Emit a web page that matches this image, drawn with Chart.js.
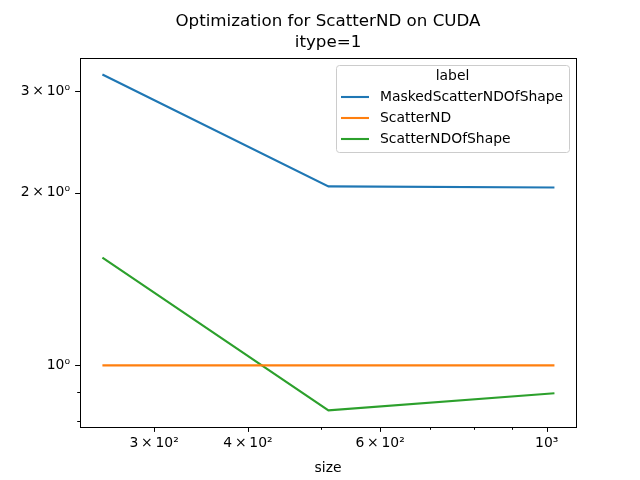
<!DOCTYPE html>
<html>
<head>
<meta charset="utf-8">
<script src="https://cdn.jsdelivr.net/npm/chart.js@4/dist/chart.umd.min.js"></script>
<style>
  html, body { margin: 0; padding: 0; background: #fff; }
  #wrap { width: 640px; height: 480px; }
</style>
</head>
<body>
<div id="wrap"><canvas id="chart" width="640" height="480"></canvas></div>
<script>
// data
const sizes = [256, 512, 1024];
const maskedScatterNDOfShape = [3.21, 2.05, 2.04];
const scatterND = [1.0, 1.0, 1.0];
const scatterNDOfShape = [1.54, 0.835, 0.894];

const seriesNames = ['MaskedScatterNDOfShape', 'ScatterND', 'ScatterNDOfShape'];
const seriesColors = ['#1f77b4', '#ff7f0e', '#2ca02c'];

// ticks (value -> label, empty label = minor tick)
const xTickValues = [300, 400, 500, 600, 700, 800, 900, 1000];
const xTickLabels = ['3\u2009×\u200910²', '4\u2009×\u200910²', '', '6\u2009×\u200910²', '', '', '', '10³'];
const yTickValues = [0.8, 0.9, 1, 2, 3];
const yTickLabels = ['', '', '10⁰', '2\u2009×\u200910⁰', '3\u2009×\u200910⁰'];

const FONT = 'DejaVu Sans';

function points(ys) {
    return sizes.map((x, i) => ({ x: x, y: ys[i] }));
}

const allSeries = [maskedScatterNDOfShape, scatterND, scatterNDOfShape];

// Frame, ticks, title and legend drawn matplotlib-style
const mplPlugin = {
    id: 'mpl',
    afterDraw(chart) {
        const ctx = chart.ctx;
        const a = chart.chartArea;
        const xs = chart.scales.x, ys = chart.scales.y;
        ctx.save();
        ctx.strokeStyle = '#000';
        ctx.lineWidth = 1;
        // ticks
        xTickValues.forEach((v, i) => {
            const px = Math.round(xs.getPixelForValue(v)) + 0.5;
            const len = xTickLabels[i] !== '' ? 4.9 : 2.8;
            ctx.beginPath();
            ctx.moveTo(px, a.bottom);
            ctx.lineTo(px, a.bottom + len);
            ctx.stroke();
        });
        yTickValues.forEach((v, i) => {
            const py = Math.round(ys.getPixelForValue(v)) + 0.5;
            const len = yTickLabels[i] !== '' ? 4.9 : 2.8;
            ctx.beginPath();
            ctx.moveTo(a.left, py);
            ctx.lineTo(a.left - len, py);
            ctx.stroke();
        });
        // spines
        ctx.strokeRect(Math.round(a.left) + 0.5, Math.round(a.top) + 0.5,
            Math.round(a.right - a.left), Math.round(a.bottom - a.top));

        // title
        const cx = (a.left + a.right) / 2;
        ctx.fillStyle = '#000';
        ctx.font = '16.7px "' + FONT + '"';
        ctx.textAlign = 'center';
        ctx.textBaseline = 'middle';
        ctx.fillText('Optimization for ScatterND on CUDA', cx, 22);
        ctx.fillText('itype=1', cx, 43);

        // legend
        const lx = 336, ly = 65, lw = 233, lh = 87;
        ctx.beginPath();
        ctx.roundRect(lx + 0.5, ly + 0.5, lw, lh, 3);
        ctx.fillStyle = 'rgba(255,255,255,0.8)';
        ctx.fill();
        ctx.strokeStyle = '#cccccc';
        ctx.stroke();
        ctx.font = '13.9px "' + FONT + '"';
        ctx.fillStyle = '#000';
        ctx.textAlign = 'center';
        ctx.fillText('label', lx + lw / 2, 76);
        ctx.textAlign = 'left';
        chart.data.datasets.forEach((ds, i) => {
            const y = 97 + i * 21;
            ctx.strokeStyle = ds.borderColor;
            ctx.lineWidth = 2.1;
            ctx.beginPath();
            ctx.moveTo(341, y);
            ctx.lineTo(369, y);
            ctx.stroke();
            ctx.fillStyle = '#000';
            ctx.fillText(ds.label, 380, y);
        });
        ctx.restore();
    }
};

new Chart(document.getElementById('chart'), {
    type: 'line',
    data: {
        datasets: allSeries.map((ys, i) => ({
            label: seriesNames[i],
            data: points(ys),
            borderColor: seriesColors[i],
            backgroundColor: seriesColors[i],
            borderWidth: 2.1,
            pointRadius: 0,
            tension: 0,
            fill: false
        }))
    },
    options: {
        responsive: false,
        animation: false,
        layout: { padding: { top: 58, right: 64, bottom: 0, left: 0 } },
        plugins: {
            legend: { display: false },
            title: { display: false },
            tooltip: { enabled: false }
        },
        scales: {
            x: {
                type: 'logarithmic',
                min: 239,
                max: 1094,
                afterBuildTicks(scale) {
                    scale.ticks = xTickValues.map(v => ({ value: v }));
                },
                afterFit(scale) { scale.height = 53; },
                ticks: {
                    autoSkip: false,
                    maxRotation: 0,
                    padding: 3,
                    color: '#000',
                    font: { family: FONT, size: 13.9 },
                    callback: v => {
                        const i = xTickValues.indexOf(v);
                        return i >= 0 ? xTickLabels[i] : '';
                    }
                },
                grid: { drawOnChartArea: false, color: 'rgba(0,0,0,0)', tickLength: 5 },
                border: { display: false },
                title: {
                    display: true,
                    text: 'size',
                    color: '#000',
                    font: { family: FONT, size: 13.9 },
                    padding: { top: 4, bottom: 3 }
                }
            },
            y: {
                type: 'logarithmic',
                min: 0.781,
                max: 3.43,
                afterBuildTicks(scale) {
                    scale.ticks = yTickValues.map(v => ({ value: v }));
                },
                afterFit(scale) { scale.width = 80; },
                ticks: {
                    autoSkip: false,
                    padding: 5,
                    color: '#000',
                    font: { family: FONT, size: 13.9 },
                    callback: v => {
                        const i = yTickValues.indexOf(v);
                        return i >= 0 ? yTickLabels[i] : '';
                    }
                },
                grid: { drawOnChartArea: false, color: 'rgba(0,0,0,0)', tickLength: 5 },
                border: { display: false }
            }
        }
    },
    plugins: [mplPlugin]
});
</script>
</body>
</html>
